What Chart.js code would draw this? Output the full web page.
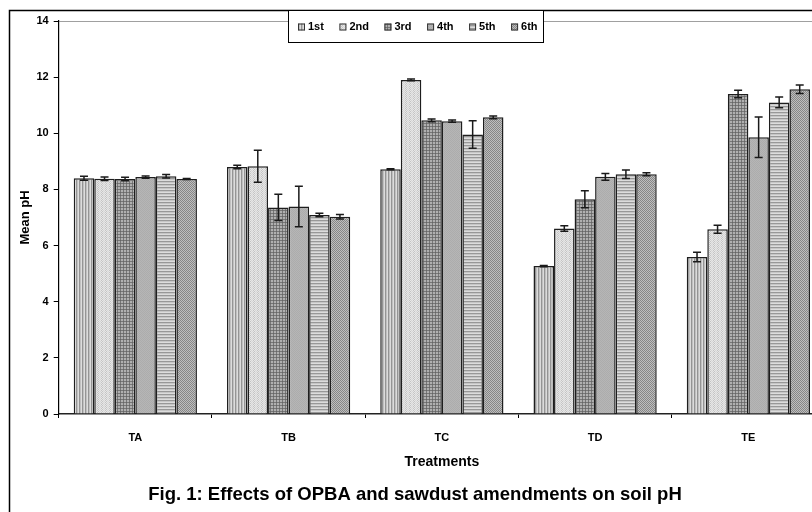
<!DOCTYPE html>
<html>
<head>
<meta charset="utf-8">
<script src="https://cdn.jsdelivr.net/npm/chart.js@4/dist/chart.umd.min.js"></script>
<style>
    html, body { margin: 0; padding: 0; width: 812px; height: 512px; overflow: hidden; background: #fff; }
    #wrap { position: absolute; left: 0; top: 0; width: 830px; height: 530px; }
</style>
</head>
<body>
<div id="wrap"><canvas id="chart" width="830" height="530"></canvas></div>
<script>
// ============================================
// DATA
// ============================================
const categories = ['TA', 'TB', 'TC', 'TD', 'TE'];
const seriesLabels = ['1st', '2nd', '3rd', '4th', '5th', '6th'];

const ph1st = [8.40, 8.80, 8.72, 5.27, 5.59];
const ph2nd = [8.38, 8.83, 11.90, 6.61, 6.58];
const ph3rd = [8.37, 7.36, 10.46, 7.65, 11.40];
const ph4th = [8.44, 7.39, 10.43, 8.45, 9.86];
const ph5th = [8.47, 7.09, 9.96, 8.54, 11.10];
const ph6th = [8.37, 7.03, 10.57, 8.54, 11.57];

const err1st = [0.07, 0.06, 0.02, 0.02, 0.17];
const err2nd = [0.06, 0.57, 0.03, 0.10, 0.14];
const err3rd = [0.06, 0.47, 0.05, 0.30, 0.13];
const err4th = [0.04, 0.72, 0.04, 0.12, 0.72];
const err5th = [0.06, 0.06, 0.49, 0.15, 0.19];
const err6th = [0.02, 0.08, 0.05, 0.05, 0.15];

const yTicks = [0, 2, 4, 6, 8, 10, 12, 14];

const FONT = "'Liberation Sans', Arial, sans-serif";

// ============================================
// PATTERNS (grey hatches like the original)
// ============================================
function makePattern(w, h, cells) {
    const c = document.createElement('canvas');
    c.width = w; c.height = h;
    const g = c.getContext('2d');
    for (let y = 0; y < h; y++) {
        for (let x = 0; x < w; x++) {
            g.fillStyle = cells[y][x];
            g.fillRect(x, y, 1, 1);
        }
    }
    return g.createPattern(c, 'repeat');
}

const patterns = [
    // vertical stripes
    makePattern(3, 1, [['#dcdcdc', '#949494', '#c0c0c0']]),
    // light dotted
    makePattern(4, 2, [['#e6e6e6', '#c4c4c4', '#e6e6e6', '#d6d6d6'],
                       ['#d6d6d6', '#e6e6e6', '#c4c4c4', '#e6e6e6']]),
    // dark grid
    makePattern(3, 3, [['#666666', '#777777', '#777777'],
                       ['#777777', '#b0b0b0', '#b0b0b0'],
                       ['#777777', '#b0b0b0', '#b0b0b0']]),
    // plain medium grey
    makePattern(2, 2, [['#acacac', '#b6b6b6'], ['#b6b6b6', '#acacac']]),
    // horizontal stripes
    makePattern(1, 3, [['#dcdcdc'], ['#989898'], ['#c6c6c6']]),
    // fine checker
    makePattern(2, 2, [['#868686', '#bebebe'], ['#bebebe', '#868686']])
];

const seriesValues = [ph1st, ph2nd, ph3rd, ph4th, ph5th, ph6th];
const seriesErrors = [err1st, err2nd, err3rd, err4th, err5th, err6th];

// ============================================
// PLUGINS
// ============================================
const errorBars = {
    id: 'errorBars',
    afterDatasetsDraw(chart) {
        const ctx = chart.ctx;
        const y = chart.scales.y;
        ctx.save();
        ctx.strokeStyle = '#1a1a1a';
        ctx.lineWidth = 1.5;
        chart.data.datasets.forEach((ds, i) => {
            const meta = chart.getDatasetMeta(i);
            meta.data.forEach((bar, j) => {
                const v = ds.data[j], e = ds.errors[j];
                const top = y.getPixelForValue(v + e);
                const bot = y.getPixelForValue(v - e);
                ctx.beginPath();
                ctx.moveTo(bar.x, top); ctx.lineTo(bar.x, bot);
                ctx.moveTo(bar.x - 4, top); ctx.lineTo(bar.x + 4, top);
                ctx.moveTo(bar.x - 4, bot); ctx.lineTo(bar.x + 4, bot);
                ctx.stroke();
            });
        });
        ctx.restore();
    }
};

const frame = {
    id: 'frame',
    afterDraw(chart) {
        const ctx = chart.ctx;
        ctx.save();
        // outer figure border
        ctx.strokeStyle = '#000';
        ctx.lineWidth = 1.5;
        ctx.strokeRect(9.5, 10.5, 900, 600);

        // legend box
        const lx = 288, ly = 10.5, lw = 255, lh = 32;
        ctx.fillStyle = '#fff';
        ctx.fillRect(lx, ly, lw, lh);
        ctx.lineWidth = 1;
        ctx.strokeRect(lx + 0.5, ly, lw, lh);

        ctx.font = 'bold 11px ' + FONT;
        ctx.textBaseline = 'middle';
        ctx.textAlign = 'left';
        let x = 298;
        const cy = 27;
        chart.data.datasets.forEach(ds => {
            ctx.fillStyle = ds.backgroundColor;
            ctx.fillRect(x, cy - 3.5, 7, 7);
            ctx.strokeStyle = '#333';
            ctx.strokeRect(x + 0.5, cy - 3, 6, 6);
            ctx.fillStyle = '#000';
            ctx.fillText(ds.label, x + 10, cy);
            x += 10 + ctx.measureText(ds.label).width + 15.5;
        });

        // caption
        ctx.font = 'bold 18.5px ' + FONT;
        ctx.textAlign = 'center';
        ctx.fillText('Fig. 1: Effects of OPBA and sawdust amendments on soil pH', 415, 495);
        ctx.restore();
    }
};

// ============================================
// CHART
// ============================================
new Chart(document.getElementById('chart'), {
    type: 'bar',
    data: {
        labels: categories,
        datasets: seriesLabels.map((label, i) => ({
            label: label,
            data: seriesValues[i],
            errors: seriesErrors[i],
            backgroundColor: patterns[i],
            borderColor: '#1e1e1e',
            borderWidth: 1.5,
            categoryPercentage: 0.804,
            barPercentage: 1.0
        }))
    },
    options: {
        responsive: false,
        animation: false,
        layout: { padding: { left: 10, top: 21, right: 5, bottom: 0 } },
        plugins: {
            legend: { display: false },
            tooltip: { enabled: false }
        },
        scales: {
            x: {
                afterFit: s => { s.height = 116; },
                border: { color: '#222', width: 1.5 },
                grid: { drawOnChartArea: false, drawTicks: true, tickLength: 4, tickColor: '#000', offset: true },
                ticks: { color: '#000', font: { family: FONT, size: 11, weight: 'bold' }, padding: 13 },
                title: {
                    display: true, text: 'Treatments', color: '#000',
                    font: { family: FONT, size: 14, weight: 'bold' },
                    padding: { top: 0, bottom: 59 }
                }
            },
            y: {
                min: 0, max: 14,
                afterFit: s => { s.width = 48.7; },
                afterBuildTicks: s => { s.ticks = yTicks.map(v => ({ value: v })); },
                border: { color: '#000', width: 1.2 },
                grid: {
                    color: c => (c.tick && c.tick.value === 14) ? '#a0a0a0' : 'rgba(0,0,0,0)',
                    tickColor: '#000', tickLength: 5
                },
                ticks: { color: '#000', font: { family: FONT, size: 11, weight: 'bold' }, padding: 5 },
                title: {
                    display: true, text: 'Mean pH', color: '#000',
                    font: { family: FONT, size: 13, weight: 'bold' },
                    padding: { top: 8, bottom: 0 }
                }
            }
        }
    },
    plugins: [errorBars, frame]
});
</script>
</body>
</html>
